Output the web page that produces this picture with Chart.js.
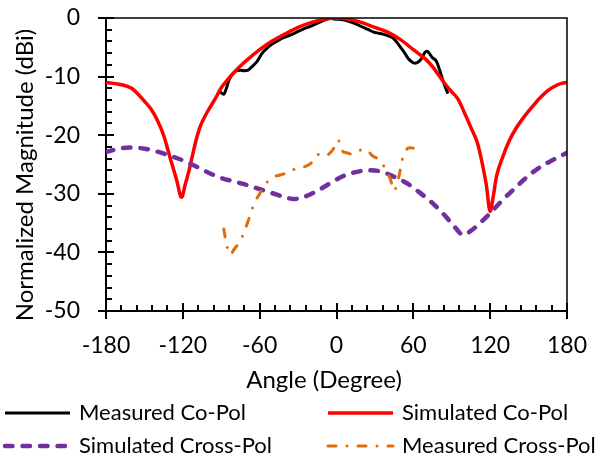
<!DOCTYPE html>
<html lang="en">
<head>
<meta charset="UTF-8">
<title>Radiation Pattern</title>
<script src="https://cdn.jsdelivr.net/npm/chart.js@4.4.1/dist/chart.umd.min.js"></script>
<style>
  html, body { margin: 0; padding: 0; background: #fff; }
</style>
</head>
<body>
<canvas id="pattern" width="595" height="454"></canvas>
<script>
// angle in degrees, magnitude in dBi (normalized to the peak)
var measCoAngle = [-91, -88, -86, -84, -81, -78, -75, -72, -69, -66, -62, -58, -54, -50, -46, -42, -36, -30, -26, -20, -15, -10, -5, 0,
                   5, 10, 15, 21, 25, 29, 33, 37, 41, 44, 47, 50, 53, 56, 59, 61, 63, 65, 67, 69, 71, 73, 75, 77.5, 79, 81, 83, 85, 87];
var measCoDb    = [-12.6, -13.0, -12.0, -10.6, -9.5, -9.0, -8.9, -9.0, -8.9, -8.3, -7.4, -6.0, -5.1, -4.4, -3.9, -3.4, -2.9, -2.3, -1.9, -1.4, -0.9, -0.4, -0.1, -0.2,
                   -0.3, -0.6, -1.0, -1.6, -2.0, -2.4, -2.6, -2.8, -3.1, -3.4, -4.1, -5.0, -5.9, -6.9, -7.5, -7.7, -7.6, -7.3, -6.7, -5.9, -5.7, -6.2, -6.8, -7.2, -7.9, -9.2, -10.6, -11.8, -12.9];

var simCoAngle = [-180, -170, -160, -150, -145, -140, -135, -130, -125, -121, -118, -115, -112, -109, -106, -103, -100, -95, -90, -85, -80, -75, -70, -60, -50, -40, -30, -20, -10, 0,
                  10, 20, 30, 40, 50, 60, 70, 75, 80, 85, 90, 95, 100, 105, 110, 114, 117, 120, 122, 125, 130, 135, 140, 145, 150, 155, 160, 165, 170, 175, 180];
var simCoDb    = [-11.0, -11.3, -12.0, -14.2, -15.5, -17.4, -20.0, -23.8, -27.5, -30.6, -28.3, -25.9, -23.0, -20.3, -18.3, -16.9, -15.7, -13.9, -11.9, -10.5, -9.3, -8.2, -7.2, -5.4, -3.9, -2.7, -1.6, -0.8, -0.2, 0,
                  -0.2, -0.8, -1.6, -2.4, -3.7, -5.4, -7.1, -8.3, -9.8, -11.3, -12.6, -13.9, -16.2, -18.7, -21.3, -25.0, -28.5, -33.0, -31.0, -27.0, -23.6, -20.9, -18.9, -17.3, -15.9, -14.6, -13.4, -12.4, -11.7, -11.2, -11.0];

var simCrossAngle = [-180, -170, -161, -150, -140, -130, -120, -110, -100, -90, -80, -70, -60, -50, -40, -33, -25, -15, -5, 5, 15, 25, 35,
                     45, 55, 65, 75, 85, 92, 99, 105, 112, 120, 130, 140, 150, 160, 170, 180];
var simCrossDb    = [-22.9, -22.3, -22.1, -22.3, -22.8, -23.5, -24.3, -25.3, -26.4, -27.3, -27.9, -28.5, -29.2, -29.9, -30.6, -30.9, -30.5, -29.5, -28.2, -27.0, -26.3, -26.0, -26.2,
                     -27.1, -28.2, -29.8, -31.6, -33.8, -35.6, -37.0, -36.3, -35.0, -33.3, -31.0, -28.9, -26.9, -25.3, -24.1, -23.0];

var measCrossAngle = [-88, -86, -83, -80, -76, -72, -68, -64, -60, -56, -52, -48, -44, -40, -36, -32, -28, -24, -20, -16, -12, -8, -4, -1,
                      1, 3, 5, 8, 11, 14, 18, 22, 25, 28, 32, 36, 39, 42, 45, 47, 49, 51, 53, 56, 60];
var measCrossDb    = [-36.0, -38.5, -40.4, -39.5, -38.3, -36.5, -34.0, -31.5, -30.0, -28.5, -27.5, -27.0, -26.8, -26.5, -26.0, -25.8, -25.6, -25.3, -24.8, -23.5, -23.2, -23.5, -22.8, -21.8,
                      -20.8, -21.5, -22.8, -23.0, -23.2, -23.0, -22.6, -22.4, -22.8, -23.5, -24.0, -25.0, -26.0, -27.5, -29.5, -28.5, -26.8, -24.5, -23.0, -22.2, -22.2];

var xTitle = 'Angle (Degree)';
var yTitle = 'Normalized Magnitude (dBi)';
var fontFamily = 'Lato, "Open Sans", sans-serif';

function pts(xs, ys) {
  return xs.map(function (x, i) { return { x: x, y: ys[i] }; });
}

// legend slots: two columns, two rows under the x axis
var legendSlots = [
  { x: 3, y: 413 },
  { x: 326, y: 413 },
  { x: 3, y: 446 },
  { x: 326, y: 446 }
];

function tickMark(ctx, x1, y1, x2, y2) {
  ctx.beginPath();
  ctx.moveTo(x1, y1);
  ctx.lineTo(x2, y2);
  ctx.stroke();
}

var framePlugin = {
  id: 'frame',
  afterDraw: function (chart) {
    var c = chart.ctx;
    var a = chart.chartArea;
    var xs = chart.scales.x, ys = chart.scales.y;
    c.save();
    c.strokeStyle = '#000000';
    c.setLineDash([]);
    c.lineCap = 'butt';

    // top and right edge of the plot box
    c.lineWidth = 1.5;
    c.beginPath();
    c.moveTo(a.left, a.top);
    c.lineTo(a.right, a.top);
    c.lineTo(a.right, a.bottom);
    c.stroke();

    // inner tick marks, major every 60 deg / 10 dB, minor every 12 deg / 2 dB
    c.lineWidth = 2;
    var i, px, py;
    for (i = 0; i <= 30; i++) {
      px = Math.round(xs.getPixelForValue(-180 + i * 12));
      tickMark(c, px, a.bottom, px, a.bottom - (i % 5 === 0 ? 8 : 6));
    }
    for (i = 0; i <= 25; i++) {
      py = Math.round(ys.getPixelForValue(-50 + i * 2));
      tickMark(c, a.left, py, a.left + (i % 5 === 0 ? 8 : 6), py);
    }

    // axis titles
    c.fillStyle = '#000';
    c.font = '24px ' + fontFamily;
    c.textAlign = 'center';
    c.textBaseline = 'alphabetic';
    c.fillText(xTitle, 324, 388);
    c.save();
    c.translate(33, 175);
    c.rotate(-Math.PI / 2);
    c.fillText(yTitle, 0, 0);
    c.restore();

    // legend
    c.font = '22px ' + fontFamily;
    c.textAlign = 'left';
    c.textBaseline = 'middle';
    chart.data.datasets.forEach(function (ds, k) {
      var s = legendSlots[k];
      c.strokeStyle = ds.borderColor;
      c.lineWidth = ds.borderWidth;
      c.lineCap = ds.borderCapStyle || 'butt';
      c.setLineDash(ds.borderDash || []);
      c.beginPath();
      c.moveTo(s.x + 2, s.y);
      c.lineTo(s.x + 67, s.y);
      c.stroke();
      c.setLineDash([]);
      c.fillStyle = '#000';
      c.fillText(ds.label, s.x + 76, s.y);
    });
    c.restore();
  }
};

var chart = new Chart(document.getElementById('pattern'), {
  type: 'line',
  data: {
    datasets: [{
      label: 'Measured Co-Pol',
      data: pts(measCoAngle, measCoDb),
      borderColor: '#000000',
      borderWidth: 3,
      tension: 0.3,
      order: 4
    }, {
      label: 'Simulated Co-Pol',
      data: pts(simCoAngle, simCoDb),
      borderColor: '#FF0000',
      borderWidth: 3.5,
      cubicInterpolationMode: 'monotone',
      order: 3
    }, {
      label: 'Simulated Cross-Pol',
      data: pts(simCrossAngle, simCrossDb),
      borderColor: '#7030A0',
      borderWidth: 4.5,
      borderDash: [7.5, 10],
      borderCapStyle: 'round',
      cubicInterpolationMode: 'monotone',
      order: 2
    }, {
      label: 'Measured Cross-Pol',
      data: pts(measCrossAngle, measCrossDb),
      borderColor: '#E36C09',
      borderWidth: 3,
      borderDash: [8, 11, 0.01, 11],
      borderCapStyle: 'round',
      tension: 0.3,
      order: 1
    }]
  },
  options: {
    responsive: false,
    animation: false,
    devicePixelRatio: 1,
    elements: { point: { radius: 0 } },
    layout: { padding: { top: 18, right: 28, bottom: 60, left: 0 } },
    plugins: {
      legend: { display: false },
      tooltip: { enabled: false }
    },
    scales: {
      x: {
        type: 'linear',
        min: -180,
        max: 180,
        afterFit: function (scale) {
          scale.height = 83;
          scale.paddingLeft = 0;
          scale.paddingRight = 0;
        },
        ticks: {
          stepSize: 60,
          padding: 13,
          color: '#000',
          font: { family: fontFamily, size: 23 }
        },
        grid: { drawOnChartArea: false, tickLength: 8, color: '#000', lineWidth: 2 },
        border: { display: true, color: '#000', width: 2 }
      },
      y: {
        min: -50,
        max: 0,
        afterFit: function (scale) {
          scale.width = 106;
          scale.paddingTop = 0;
          scale.paddingBottom = 0;
        },
        ticks: {
          stepSize: 10,
          padding: 18,
          color: '#000',
          font: { family: fontFamily, size: 23 }
        },
        grid: { drawOnChartArea: false, tickLength: 8, color: '#000', lineWidth: 2 },
        border: { display: true, color: '#000', width: 2 }
      }
    }
  },
  plugins: [framePlugin]
});
</script>
</body>
</html>
